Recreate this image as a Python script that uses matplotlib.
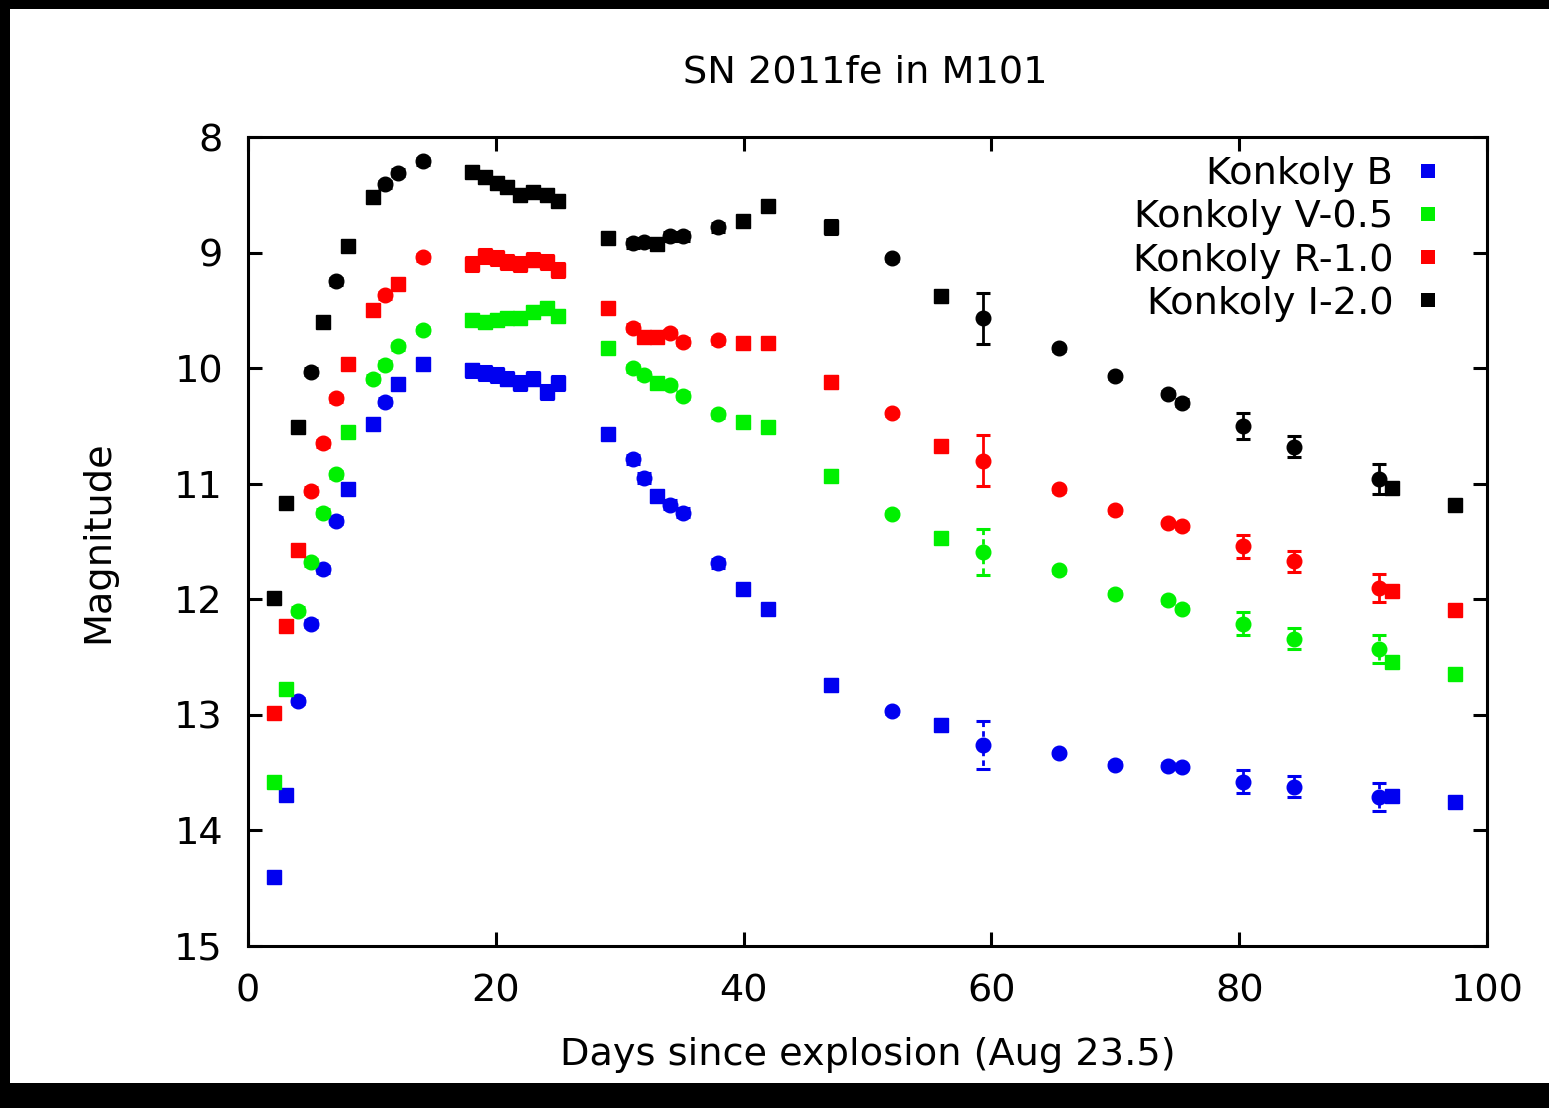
import numpy as np
import matplotlib
matplotlib.use("Agg")
import matplotlib.pyplot as plt
from matplotlib.lines import Line2D
from matplotlib.patches import Rectangle

plt.rcParams['font.family'] = ['DejaVu Sans']
plt.rcParams['font.size'] = 27

# ---------------- data ----------------
days = [2.1, 3.07, 4.0, 5.1, 6.05, 7.1, 8.07, 10.1, 11.06, 12.1, 14.1,
        18.08, 19.13, 20.1, 20.9, 21.95, 23.0, 24.13, 25.02,
        29.06, 31.1, 32.0, 33.0, 34.06, 35.1, 37.9, 39.95, 41.97,
        47.05, 52.0, 55.9, 59.3, 65.46, 69.98, 74.25, 75.4,
        80.3, 84.4, 91.3, 92.3, 97.4]

mag_B = [14.40, 13.69, 12.88, 12.21, 11.74, 11.32, 11.05, 10.48, 10.29, 10.14, 9.96,
         10.02, 10.04, 10.06, 10.09, 10.13, 10.09, 10.21, 10.13,
         10.57, 10.79, 10.95, 11.11, 11.18, 11.25, 11.69, 11.91, 12.08,
         12.74, 12.97, 13.09, 13.26, 13.33, 13.43, 13.44, 13.45,
         13.58, 13.62, 13.71, 13.70, 13.75]
mag_V = [13.58, 12.78, 12.10, 11.68, 11.25, 10.92, 10.55, 10.09, 9.97, 9.81, 9.67,
         9.58, 9.60, 9.58, 9.57, 9.57, 9.51, 9.48, 9.55,
         9.83, 10.00, 10.06, 10.13, 10.15, 10.24, 10.40, 10.47, 10.51,
         10.93, 11.26, 11.47, 11.59, 11.75, 11.95, 12.01, 12.08,
         12.21, 12.34, 12.43, 12.54, 12.65]
mag_R = [12.98, 12.23, 11.57, 11.06, 10.65, 10.26, 9.96, 9.50, 9.37, 9.27, 9.04,
         9.10, 9.03, 9.05, 9.08, 9.10, 9.06, 9.08, 9.15,
         9.48, 9.65, 9.73, 9.73, 9.70, 9.77, 9.76, 9.78, 9.78,
         10.12, 10.39, 10.67, 10.80, 11.05, 11.23, 11.34, 11.37,
         11.54, 11.67, 11.90, 11.93, 12.09]
mag_I = [11.99, 11.17, 10.51, 10.03, 9.60, 9.25, 8.94, 8.52, 8.41, 8.31, 8.21,
         8.30, 8.35, 8.40, 8.43, 8.50, 8.48, 8.50, 8.55,
         8.87, 8.92, 8.91, 8.93, 8.86, 8.86, 8.78, 8.73, 8.60,
         8.78, 9.05, 9.38, 9.57, 9.83, 10.07, 10.22, 10.30,
         10.50, 10.68, 10.96, 11.04, 11.18]

err_B = [0.03]*11 + [0.06]*8 + [0.04]*9 + [0.05, 0.02, 0.05, 0.21, 0.02, 0.02, 0.02, 0.02,
                                           0.10, 0.09, 0.12, 0.04, 0.04]
err_V = [0.03]*11 + [0.05]*8 + [0.03]*9 + [0.05, 0.02, 0.04, 0.20, 0.02, 0.02, 0.02, 0.02,
                                           0.10, 0.09, 0.12, 0.04, 0.04]
err_R = [0.03]*11 + [0.06]*8 + [0.03]*9 + [0.05, 0.02, 0.04, 0.22, 0.02, 0.02, 0.02, 0.02,
                                           0.10, 0.09, 0.12, 0.03, 0.03]
err_I = [0.03]*11 + [0.05]*8 + [0.04]*9 + [0.06, 0.02, 0.05, 0.22, 0.02, 0.02, 0.02, 0.03,
                                           0.11, 0.09, 0.13, 0.03, 0.03]

labels = ["Konkoly B", "Konkoly V-0.5", "Konkoly R-1.0", "Konkoly I-2.0"]
x_ticks = [0, 20, 40, 60, 80, 100]
y_ticks = [8, 9, 10, 11, 12, 13, 14, 15]

# ---------------- styles ----------------
colors = ['#0000f0', '#00f000', '#ff0000', '#000000']
tail = "soso" + "ooooooo" + "ss"
mk_B = np.array(list("ssoooossoss" + "s" * 8 + "soosoooss" + tail))
mk_V = np.array(list("ssoooosoooo" + "s" * 8 + "soosoooss" + tail))
mk_R = np.array(list("sssooossoso" + "s" * 8 + "sossoooss" + tail))
mk_I = np.array(list("sssosossooo" + "s" * 8 + "soosoooss" + tail))

# ---------------- figure ----------------
fig = plt.figure(figsize=(15.49, 11.08), dpi=100, facecolor='black')
bg = Rectangle((10/1549, 25/1108), 1 - 10/1549, (1083 - 9)/1108,
               transform=fig.transFigure, facecolor='white',
               edgecolor='none', zorder=-10)
fig.patches.append(bg)

ax = fig.add_axes([248/1549, (1108-946)/1108, 1239/1549, 809/1108])
ax.set_facecolor('white')
ax.set_zorder(5)

d = np.array(days)
bands = [(mag_B, err_B, mk_B, colors[0], (0, (2, 1.5))),
         (mag_V, err_V, mk_V, colors[1], (0, (2, 1.5))),
         (mag_R, err_R, mk_R, colors[2], '-'),
         (mag_I, err_I, mk_I, colors[3], '-')]

for mags, errs, mks, col, ls in bands:
    m = np.array(mags); e = np.array(errs)
    for marker in ('s', 'o'):
        sel = mks == marker
        if not sel.any():
            continue
        ms = 9.5 if marker == 's' else 10.5
        eb = ax.errorbar(d[sel], m[sel], yerr=e[sel], fmt=marker, color=col,
                         ms=ms, capsize=5, elinewidth=2.0, capthick=2.2,
                         zorder=3)
        for lc in eb[2]:
            lc.set_linestyle(ls)
        for cap in eb[1]:
            cap.set_markeredgewidth(2.2)
            cap.set_markersize(10)

ax.set_xlim(0, 100)
ax.set_ylim(15, 8)
ax.set_xticks(x_ticks)
ax.set_yticks(y_ticks)
ax.set_xticklabels([str(t) for t in x_ticks])
ax.set_yticklabels([str(t) for t in y_ticks])

for sp in ax.spines.values():
    sp.set_linewidth(2.2)
ax.tick_params(direction='in', length=10, width=2.2, top=True, right=True,
               labelsize=27.5)
ax.tick_params(axis='x', pad=20)
ax.tick_params(axis='y', pad=18)

ax.set_xlabel("Days since explosion (Aug 23.5)", fontsize=27.5)
ax.xaxis.label.set_va('center')
ax.xaxis.set_label_coords(0.5, -0.135)
ax.set_ylabel("Magnitude", fontsize=27.5)
ax.yaxis.label.set_va('center')
ax.yaxis.set_label_coords(-0.121, 0.5)

ax.text(0.4985, 1.080, "SN 2011fe in M101", transform=ax.transAxes,
        ha='center', va='center', fontsize=27.5)

handles = [Line2D([], [], linestyle='none', marker='s', ms=10, mew=0, color=c)
           for c in colors]
leg = ax.legend(handles, labels, loc='upper right',
                bbox_to_anchor=(0.9613, 0.9765), frameon=False,
                markerfirst=False, handlelength=0.6, handletextpad=0.6,
                labelspacing=0.19, borderpad=0, borderaxespad=0, fontsize=27.5)

fig.savefig("out.png", dpi=100, facecolor=fig.get_facecolor())
